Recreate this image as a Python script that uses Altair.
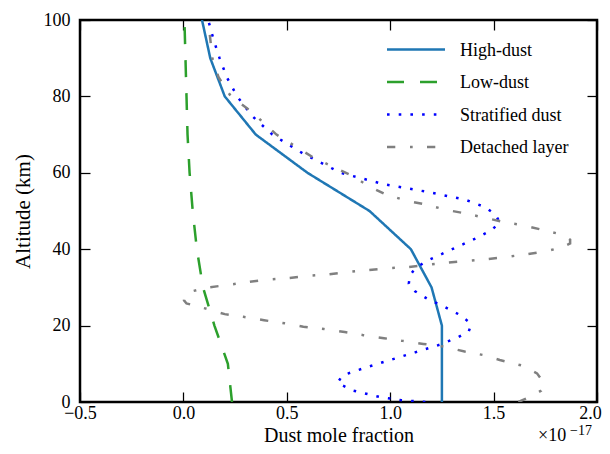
import altair as alt
import pandas as pd

FONT = "Liberation Serif"

series_names = ["High-dust", "Low-dust", "Stratified dust", "Detached layer"]
series_colors = ["#1f77b4", "#2ca02c", "#0000ff", "#808080"]
series_dashes = [[1, 0], [17, 16], [2.6, 9.1], [8.3, 14.7, 2.7, 14.3]]

x_ticks = [-0.5, 0.0, 0.5, 1.0, 1.5, 2.0]
y_ticks = [0, 20, 40, 60, 80, 100]

high_alt = [0, 10, 20, 30, 40, 50, 60, 70, 80, 90, 100]
high_val = [1.25, 1.25, 1.25, 1.2, 1.1, 0.9, 0.6, 0.35, 0.2, 0.13, 0.09]

low_alt = [0, 10, 20, 30, 40, 50, 60, 70, 80, 90, 100]
low_val = [0.235, 0.215, 0.15, 0.095, 0.065, 0.045, 0.03, 0.02, 0.015, 0.01, 0.005]

strat_alt = [0, 0.5, 1.3, 3, 5, 7, 9, 11, 13, 15, 17, 18.5, 20, 21, 23, 25, 27, 29, 31, 33,
             35, 37, 40, 43, 45, 47, 49, 51, 53, 55, 57, 60, 65, 70, 75, 80, 85, 90, 95, 100]
strat_val = [1.17, 1.05, 0.95, 0.82, 0.745, 0.77, 0.88, 1.0, 1.12, 1.24, 1.33, 1.38, 1.39, 1.38,
             1.33, 1.26, 1.18, 1.12, 1.09, 1.095, 1.12, 1.18, 1.3, 1.42, 1.49, 1.53, 1.51, 1.46,
             1.36, 1.18, 0.97, 0.76, 0.58, 0.43, 0.33, 0.26, 0.21, 0.175, 0.145, 0.12]

det_alt = [0, 1, 2, 3, 4, 5, 6, 7.5, 9.5, 11, 12.3, 13.2, 14.5, 15.2, 16, 16.7, 17.5, 18.3,
           19.1, 19.7, 20.6, 21.4, 22.3, 23, 24.5, 25.8, 26.6, 27.5, 28.7, 30, 30.6, 31.4, 32,
           32.4, 33, 33.4, 34, 34.5, 35, 35.3, 35.9, 36.5, 36.9, 37.4, 38, 38.7, 39.5, 40.5,
           41.5, 42.5, 43.7, 45, 46.2, 47, 48.2, 49.3, 50.3, 51.6, 52.7, 54.3, 56.4, 59.4, 64,
           70, 76, 80, 85, 90, 100]
det_val = [1.62, 1.66, 1.7, 1.73, 1.74, 1.74, 1.73, 1.71, 1.64, 1.53, 1.45, 1.36, 1.26, 1.16,
           1.06, 0.97, 0.87, 0.78, 0.68, 0.58, 0.49, 0.39, 0.29, 0.2, 0.105, 0.015, 0.003, 0.005,
           0.02, 0.12, 0.21, 0.31, 0.4, 0.5, 0.6, 0.7, 0.79, 0.89, 0.98, 1.08, 1.18, 1.28, 1.37,
           1.47, 1.566, 1.66, 1.757, 1.83, 1.87, 1.87, 1.84, 1.74, 1.65, 1.56, 1.46, 1.37, 1.27,
           1.18, 1.08, 0.98, 0.9, 0.81, 0.628, 0.45, 0.33, 0.23, 0.17, 0.14, 0.12]

rows = []
for name, alts, vals in zip(series_names,
                            [high_alt, low_alt, strat_alt, det_alt],
                            [high_val, low_val, strat_val, det_val]):
    for a, v in zip(alts, vals):
        rows.append({"series": name, "alt": a, "frac": v})
df = pd.DataFrame(rows)

W, H = 517, 382

xscale = alt.Scale(domain=[-0.5, 2.0], nice=False, zero=False)
yscale = alt.Scale(domain=[0, 100], nice=False, zero=False)

main = alt.Chart(df).mark_line(clip=True, strokeWidth=2.5).encode(
    x=alt.X("frac:Q", scale=xscale, axis=alt.Axis(
        orient="bottom", values=x_ticks, format=".1f", ticks=False, domain=False, grid=False,
        labelFont=FONT, labelFontSize=18, labelColor="black", labelBaseline="alphabetic",
        labelPadding=16, labelFlush=False, labelOverlap=False,
        labelOffset={"condition": {"test": "datum.value >= 2", "value": -7}, "value": 0},
        title="Dust mole fraction", titleFont=FONT, titleFontSize=20, titleFontWeight="normal",
        titleColor="black", titleBaseline="alphabetic", titleY=39)),
    y=alt.Y("alt:Q", scale=yscale, axis=alt.Axis(
        orient="left", values=y_ticks, format="d", ticks=False, domain=False, grid=False,
        labelFont=FONT, labelFontSize=18, labelColor="black", labelBaseline="middle",
        labelPadding=10, labelFlush=False, labelOverlap=False,
        title="Altitude (km)", titleFont=FONT, titleFontSize=21, titleFontWeight="normal",
        titleColor="black", titleBaseline="alphabetic", titleX=-51)),
    color=alt.Color("series:N", scale=alt.Scale(domain=series_names, range=series_colors), legend=None),
    strokeDash=alt.StrokeDash("series:N", scale=alt.Scale(domain=series_names, range=series_dashes), legend=None),
    order=alt.Order("alt:Q"),
)

def tick_axis(orient, vals):
    return alt.Axis(orient=orient, values=vals, labels=False, domain=False, grid=False,
                    ticks=True, tickSize=10, tickWidth=1.25, tickColor="black", offset=-10,
                    title=None)

ticks_bl = alt.Chart(df).mark_line(strokeOpacity=0).encode(
    x=alt.X("frac:Q", scale=xscale, axis=tick_axis("bottom", x_ticks)),
    y=alt.Y("alt:Q", scale=yscale, axis=tick_axis("left", y_ticks)),
    detail="series:N", order=alt.Order("alt:Q"),
)
ticks_tr = alt.Chart(df).mark_line(strokeOpacity=0).encode(
    x=alt.X("frac:Q", scale=xscale, axis=tick_axis("top", x_ticks)),
    y=alt.Y("alt:Q", scale=yscale, axis=tick_axis("right", y_ticks)),
    detail="series:N", order=alt.Order("alt:Q"),
)

legend_layers = []
row_y = [29.5, 62, 94.5, 127]
for name, col, dash, ry in zip(series_names, series_colors, series_dashes, row_y):
    ldf = pd.DataFrame({"label": [name]})
    legend_layers.append(
        alt.Chart(ldf).mark_rule(color=col, strokeDash=dash, strokeWidth=2.5).encode(
            x=alt.value(307), x2=alt.value(365), y=alt.value(ry)))
    legend_layers.append(
        alt.Chart(ldf).mark_text(align="left", baseline="middle", font=FONT, fontSize=18,
                                 color="black").encode(
            x=alt.value(380), y=alt.value(ry + 1), text="label:N"))

exp_df = pd.DataFrame({"base": ["×10"], "sup": ["−17"]})
exp_base = alt.Chart(exp_df).mark_text(align="left", baseline="alphabetic", font=FONT,
                                       fontSize=18, color="black").encode(
    x=alt.value(458), y=alt.value(421), text="base:N")
exp_sup = alt.Chart(exp_df).mark_text(align="left", baseline="alphabetic", font=FONT,
                                      fontSize=14, color="black").encode(
    x=alt.value(490), y=alt.value(415), text="sup:N")

chart = alt.layer(main, ticks_bl, ticks_tr, *legend_layers, exp_base, exp_sup).resolve_axis(
    x="independent", y="independent"
).properties(
    width=W, height=H,
    padding={"left": 72, "top": 12, "right": 5, "bottom": 44},
    autosize=alt.AutoSizeParams(type="none"),
    background="white",
).configure_view(stroke="black", strokeWidth=2.5)

chart.save("out.html", embed_options={"renderer": "svg", "actions": False})
